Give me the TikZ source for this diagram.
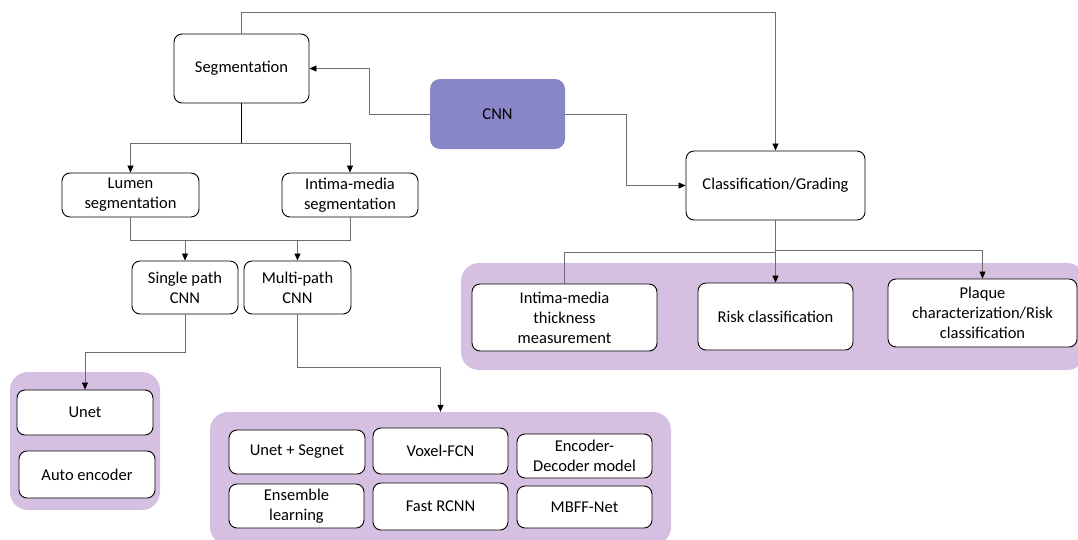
\documentclass[tikz,border=0pt]{standalone}
\usepackage{fontspec}
\setmainfont{Carlito}
\usetikzlibrary{arrows.meta}
\definecolor{cnnfill}{HTML}{8886C6}
\definecolor{grpfill}{HTML}{D6C0E2}
\definecolor{conncol}{HTML}{6E6E6E}
\begin{document}
\begin{tikzpicture}[x=1pt,y=-1pt,
  box/.style={draw=black,line width=0.9pt,rounded corners=8pt,fill=white,align=center,
    inner sep=2pt,font=\fontsize{16.5}{20}\selectfont},
  cnnbox/.style={draw=none,rounded corners=10pt,fill=cnnfill,align=center,font=\fontsize{16.5}{20}\selectfont},
  grp/.style={draw=none,rounded corners=18pt,fill=grpfill,inner sep=0pt},
  conn/.style={draw=conncol,line width=0.8pt},
  arr/.style={conn,-{Triangle[length=7pt,width=6pt,color=black]}}]
\useasboundingbox (0,0) rectangle (1078,539);
% groups
\node[grp,minimum width=150pt,minimum height=138pt] (gL) at (85,441) {};
\node[grp,minimum width=461pt,minimum height=133pt] (gB) at (440.5,478.5) {};
\node[grp,minimum width=624pt,minimum height=107pt] (gR) at (773,316.5) {};
% nodes
\node[box,minimum width=135pt,minimum height=69pt] (seg) at (241.5,68.5) {Segmentation};
\node[cnnbox,minimum width=135pt,minimum height=70pt] (cnn) at (497.5,114) {CNN};
\node[box,minimum width=179pt,minimum height=69pt] (cls) at (775.5,185.5) {Classification/Grading};
\node[box,minimum width=137pt,minimum height=44pt] (lum) at (130.5,195) {Lumen\\segmentation};
\node[box,minimum width=136pt,minimum height=44pt] (ims) at (350,195) {Intima-media\\segmentation};
\node[box,minimum width=106pt,minimum height=53pt] (sp) at (185,287.5) {Single path\\CNN};
\node[box,minimum width=107pt,minimum height=53pt] (mp) at (297.5,287.5) {Multi-path\\CNN};
\node[box,minimum width=136pt,minimum height=45pt] (unet) at (85,412.5) {Unet};
\node[box,minimum width=136pt,minimum height=47pt] (ae) at (87,474.5) {Auto encoder};
\node[box,minimum width=136pt,minimum height=44pt] (us) at (297,452) {Unet + Segnet};
\node[box,minimum width=135pt,minimum height=46pt] (vf) at (440.5,451) {Voxel-FCN};
\node[box,minimum width=135pt,minimum height=44pt] (ed) at (584.5,456) {Encoder-\\Decoder model};
\node[box,minimum width=135pt,minimum height=44pt] (el) at (296.5,506) {Ensemble\\learning};
\node[box,minimum width=135pt,minimum height=47pt] (fr) at (440.5,506.5) {Fast RCNN};
\node[box,minimum width=135pt,minimum height=42pt] (mb) at (584.5,507) {MBFF-Net};
\node[box,minimum width=185pt,minimum height=67pt] (imt) at (564.5,317.5) {Intima-media\\thickness\\measurement};
\node[box,minimum width=155pt,minimum height=67pt] (rc) at (775.5,316.5) {Risk classification};
\node[box,minimum width=189pt,minimum height=68pt] (pc) at (982.5,313) {Plaque\\characterization/Risk\\classification};
% connectors
\draw[arr] (seg.north) -- ++(0,-21) -| (cls.north);
\draw[arr] (cnn.west) -- ++(-60,0) |- (seg.east);
\draw[arr] (cnn.east) -- ++(61,0) |- (cls.west);
\draw[conn,draw=black] (seg.south) -- ++(0,40) coordinate (s1);
\draw[arr] (s1) -| (lum.north);
\draw[arr] (s1) -| (ims.north);
\draw[conn] (lum.south) -- ++(0,23) coordinate (j1) -- (j1 -| ims.south) -- (ims.south);
\draw[arr] (j1 -| sp.north) -- (sp.north);
\draw[arr] (j1 -| mp.north) -- (mp.north);
\draw[arr] (sp.south) -- ++(0,38) -| (unet.north);
\draw[arr] (mp.south) -- ++(0,53) -| (gB.north);
\draw[conn] (cls.south) -- ++(0,30) coordinate (c1);
\draw[arr] (c1) -- (rc.north);
\draw[arr] (c1) -| (pc.north);
\draw[conn] (c1) ++(0,2) -| (imt.north);
\end{tikzpicture}
\end{document}
